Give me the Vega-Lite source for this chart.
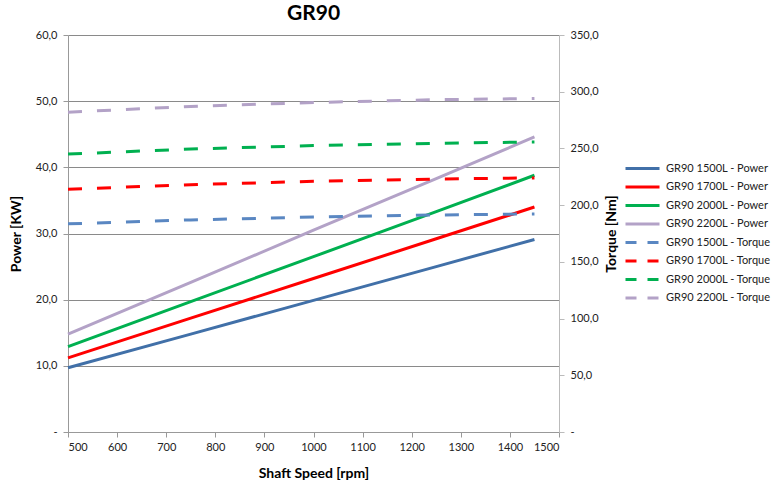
{
  "$schema": "https://vega.github.io/schema/vega-lite/v6.json",
  "width": 491,
  "height": 397,
  "autosize": {"type": "none"},
  "padding": {"left": 68, "top": 35, "right": 220, "bottom": 53},
  "background": "white",
  "config": {
    "font": "Lato",
    "view": {"stroke": null},
    "axis": {"labelFont": "Lato", "titleFont": "Lato", "labelColor": "#222", "titleColor": "#000"}
  },
  "title": {"text": "GR90", "fontSize": 21, "fontWeight": "bold", "font": "Lato", "anchor": "middle", "offset": 5, "color": "#000"},
  "data": {
    "values": [
      {"rpm": 500, "series": "GR90 1500L - Power", "kind": "Power", "value": 9.7},
      {"rpm": 750, "series": "GR90 1500L - Power", "kind": "Power", "value": 14.8},
      {"rpm": 1000, "series": "GR90 1500L - Power", "kind": "Power", "value": 19.9},
      {"rpm": 1250, "series": "GR90 1500L - Power", "kind": "Power", "value": 25.0},
      {"rpm": 1450, "series": "GR90 1500L - Power", "kind": "Power", "value": 29.1},
      {"rpm": 500, "series": "GR90 1700L - Power", "kind": "Power", "value": 11.2},
      {"rpm": 750, "series": "GR90 1700L - Power", "kind": "Power", "value": 17.2},
      {"rpm": 1000, "series": "GR90 1700L - Power", "kind": "Power", "value": 23.2},
      {"rpm": 1250, "series": "GR90 1700L - Power", "kind": "Power", "value": 29.2},
      {"rpm": 1450, "series": "GR90 1700L - Power", "kind": "Power", "value": 34.0},
      {"rpm": 500, "series": "GR90 2000L - Power", "kind": "Power", "value": 12.9},
      {"rpm": 750, "series": "GR90 2000L - Power", "kind": "Power", "value": 19.7},
      {"rpm": 1000, "series": "GR90 2000L - Power", "kind": "Power", "value": 26.5},
      {"rpm": 1250, "series": "GR90 2000L - Power", "kind": "Power", "value": 33.3},
      {"rpm": 1450, "series": "GR90 2000L - Power", "kind": "Power", "value": 38.8},
      {"rpm": 500, "series": "GR90 2200L - Power", "kind": "Power", "value": 14.8},
      {"rpm": 750, "series": "GR90 2200L - Power", "kind": "Power", "value": 22.6},
      {"rpm": 1000, "series": "GR90 2200L - Power", "kind": "Power", "value": 30.5},
      {"rpm": 1250, "series": "GR90 2200L - Power", "kind": "Power", "value": 38.3},
      {"rpm": 1450, "series": "GR90 2200L - Power", "kind": "Power", "value": 44.6},
      {"rpm": 500, "series": "GR90 1500L - Torque", "kind": "Torque", "value": 183.5},
      {"rpm": 750, "series": "GR90 1500L - Torque", "kind": "Torque", "value": 187.0},
      {"rpm": 1000, "series": "GR90 1500L - Torque", "kind": "Torque", "value": 189.5},
      {"rpm": 1250, "series": "GR90 1500L - Torque", "kind": "Torque", "value": 191.3},
      {"rpm": 1450, "series": "GR90 1500L - Torque", "kind": "Torque", "value": 192.3},
      {"rpm": 500, "series": "GR90 1700L - Torque", "kind": "Torque", "value": 214.0},
      {"rpm": 750, "series": "GR90 1700L - Torque", "kind": "Torque", "value": 218.0},
      {"rpm": 1000, "series": "GR90 1700L - Torque", "kind": "Torque", "value": 221.0},
      {"rpm": 1250, "series": "GR90 1700L - Torque", "kind": "Torque", "value": 223.0},
      {"rpm": 1450, "series": "GR90 1700L - Torque", "kind": "Torque", "value": 224.0},
      {"rpm": 500, "series": "GR90 2000L - Torque", "kind": "Torque", "value": 245.0},
      {"rpm": 750, "series": "GR90 2000L - Torque", "kind": "Torque", "value": 249.5},
      {"rpm": 1000, "series": "GR90 2000L - Torque", "kind": "Torque", "value": 252.5},
      {"rpm": 1250, "series": "GR90 2000L - Torque", "kind": "Torque", "value": 254.5},
      {"rpm": 1450, "series": "GR90 2000L - Torque", "kind": "Torque", "value": 255.7},
      {"rpm": 500, "series": "GR90 2200L - Torque", "kind": "Torque", "value": 282.0},
      {"rpm": 750, "series": "GR90 2200L - Torque", "kind": "Torque", "value": 287.0},
      {"rpm": 1000, "series": "GR90 2200L - Torque", "kind": "Torque", "value": 290.5},
      {"rpm": 1250, "series": "GR90 2200L - Torque", "kind": "Torque", "value": 293.0},
      {"rpm": 1450, "series": "GR90 2200L - Torque", "kind": "Torque", "value": 294.0}
    ]
  },
  "encoding": {
    "x": {
      "field": "rpm", "type": "quantitative",
      "scale": {"domain": [500, 1500], "nice": false, "zero": false},
      "axis": {
        "title": "Shaft Speed [rpm]", "titleFontSize": 14, "titleFontWeight": "bold", "titlePadding": 14,
        "values": [500, 600, 700, 800, 900, 1000, 1100, 1200, 1300, 1400, 1500],
        "format": "d", "labelFontSize": 11, "labelPadding": 4,
        "grid": false, "domain": true, "domainColor": "#999", "tickColor": "#999", "tickSize": 5
      }
    },
    "color": {
      "field": "series", "type": "nominal",
      "scale": {
        "domain": ["GR90 1500L - Power", "GR90 1700L - Power", "GR90 2000L - Power", "GR90 2200L - Power", "GR90 1500L - Torque", "GR90 1700L - Torque", "GR90 2000L - Torque", "GR90 2200L - Torque"],
        "range": ["#4170A8", "#FF0000", "#00B050", "#B3A2C7", "#5A87C2", "#FF0000", "#00B050", "#B3A2C7"]
      },
      "legend": {
        "title": null, "orient": "none", "legendX": 563, "legendY": 122, "padding": 0,
        "symbolType": "M-1.7,0H1.7", "symbolSize": 400, "symbolStrokeWidth": 3,
        "labelFontSize": 11, "labelFont": "Lato", "labelColor": "#222", "labelOffset": 12, "rowPadding": 0.5,
        "labelLimit": 200,
        "encode": {"symbols": {"update": {"strokeDash": {"signal": "test(/Torque/, datum.value) ? [11, 11] : null"}}}}
      }
    }
  },
  "layer": [
    {
      "transform": [{"filter": "datum.kind == 'Power'"}],
      "mark": {"type": "line", "strokeWidth": 3},
      "encoding": {
        "y": {
          "field": "value", "type": "quantitative",
          "scale": {"domain": [0, 60], "nice": false},
          "axis": {
            "title": "Power [KW]", "titleFontSize": 14, "titleFontWeight": "bold", "titlePadding": 12,
            "values": [0, 10, 20, 30, 40, 50, 60],
            "labelExpr": "datum.value == 0 ? '-' : replace(format(datum.value, '.1f'), '.', ',')",
            "labelFontSize": 11, "labelPadding": 6, "tickSize": 5, "tickColor": "#999",
            "grid": true, "gridColor": "#8a8a8a", "gridWidth": 1,
            "domain": true, "domainColor": "#999"
          }
        }
      }
    },
    {
      "transform": [{"filter": "datum.kind == 'Torque'"}],
      "mark": {"type": "line", "strokeWidth": 3, "strokeDash": [14, 15]},
      "encoding": {
        "y": {
          "field": "value", "type": "quantitative",
          "scale": {"domain": [0, 350], "nice": false},
          "axis": {
            "orient": "right",
            "title": "Torque [Nm]", "titleFontSize": 14, "titleFontWeight": "bold", "titlePadding": 20, "titleAngle": 270,
            "values": [0, 50, 100, 150, 200, 250, 300, 350],
            "labelExpr": "datum.value == 0 ? '-' : replace(format(datum.value, '.1f'), '.', ',')",
            "labelFontSize": 11, "labelPadding": 6, "tickSize": 5, "tickColor": "#bbb",
            "grid": false, "domain": true, "domainColor": "#bbb"
          }
        }
      }
    }
  ],
  "resolve": {"scale": {"y": "independent"}}
}
